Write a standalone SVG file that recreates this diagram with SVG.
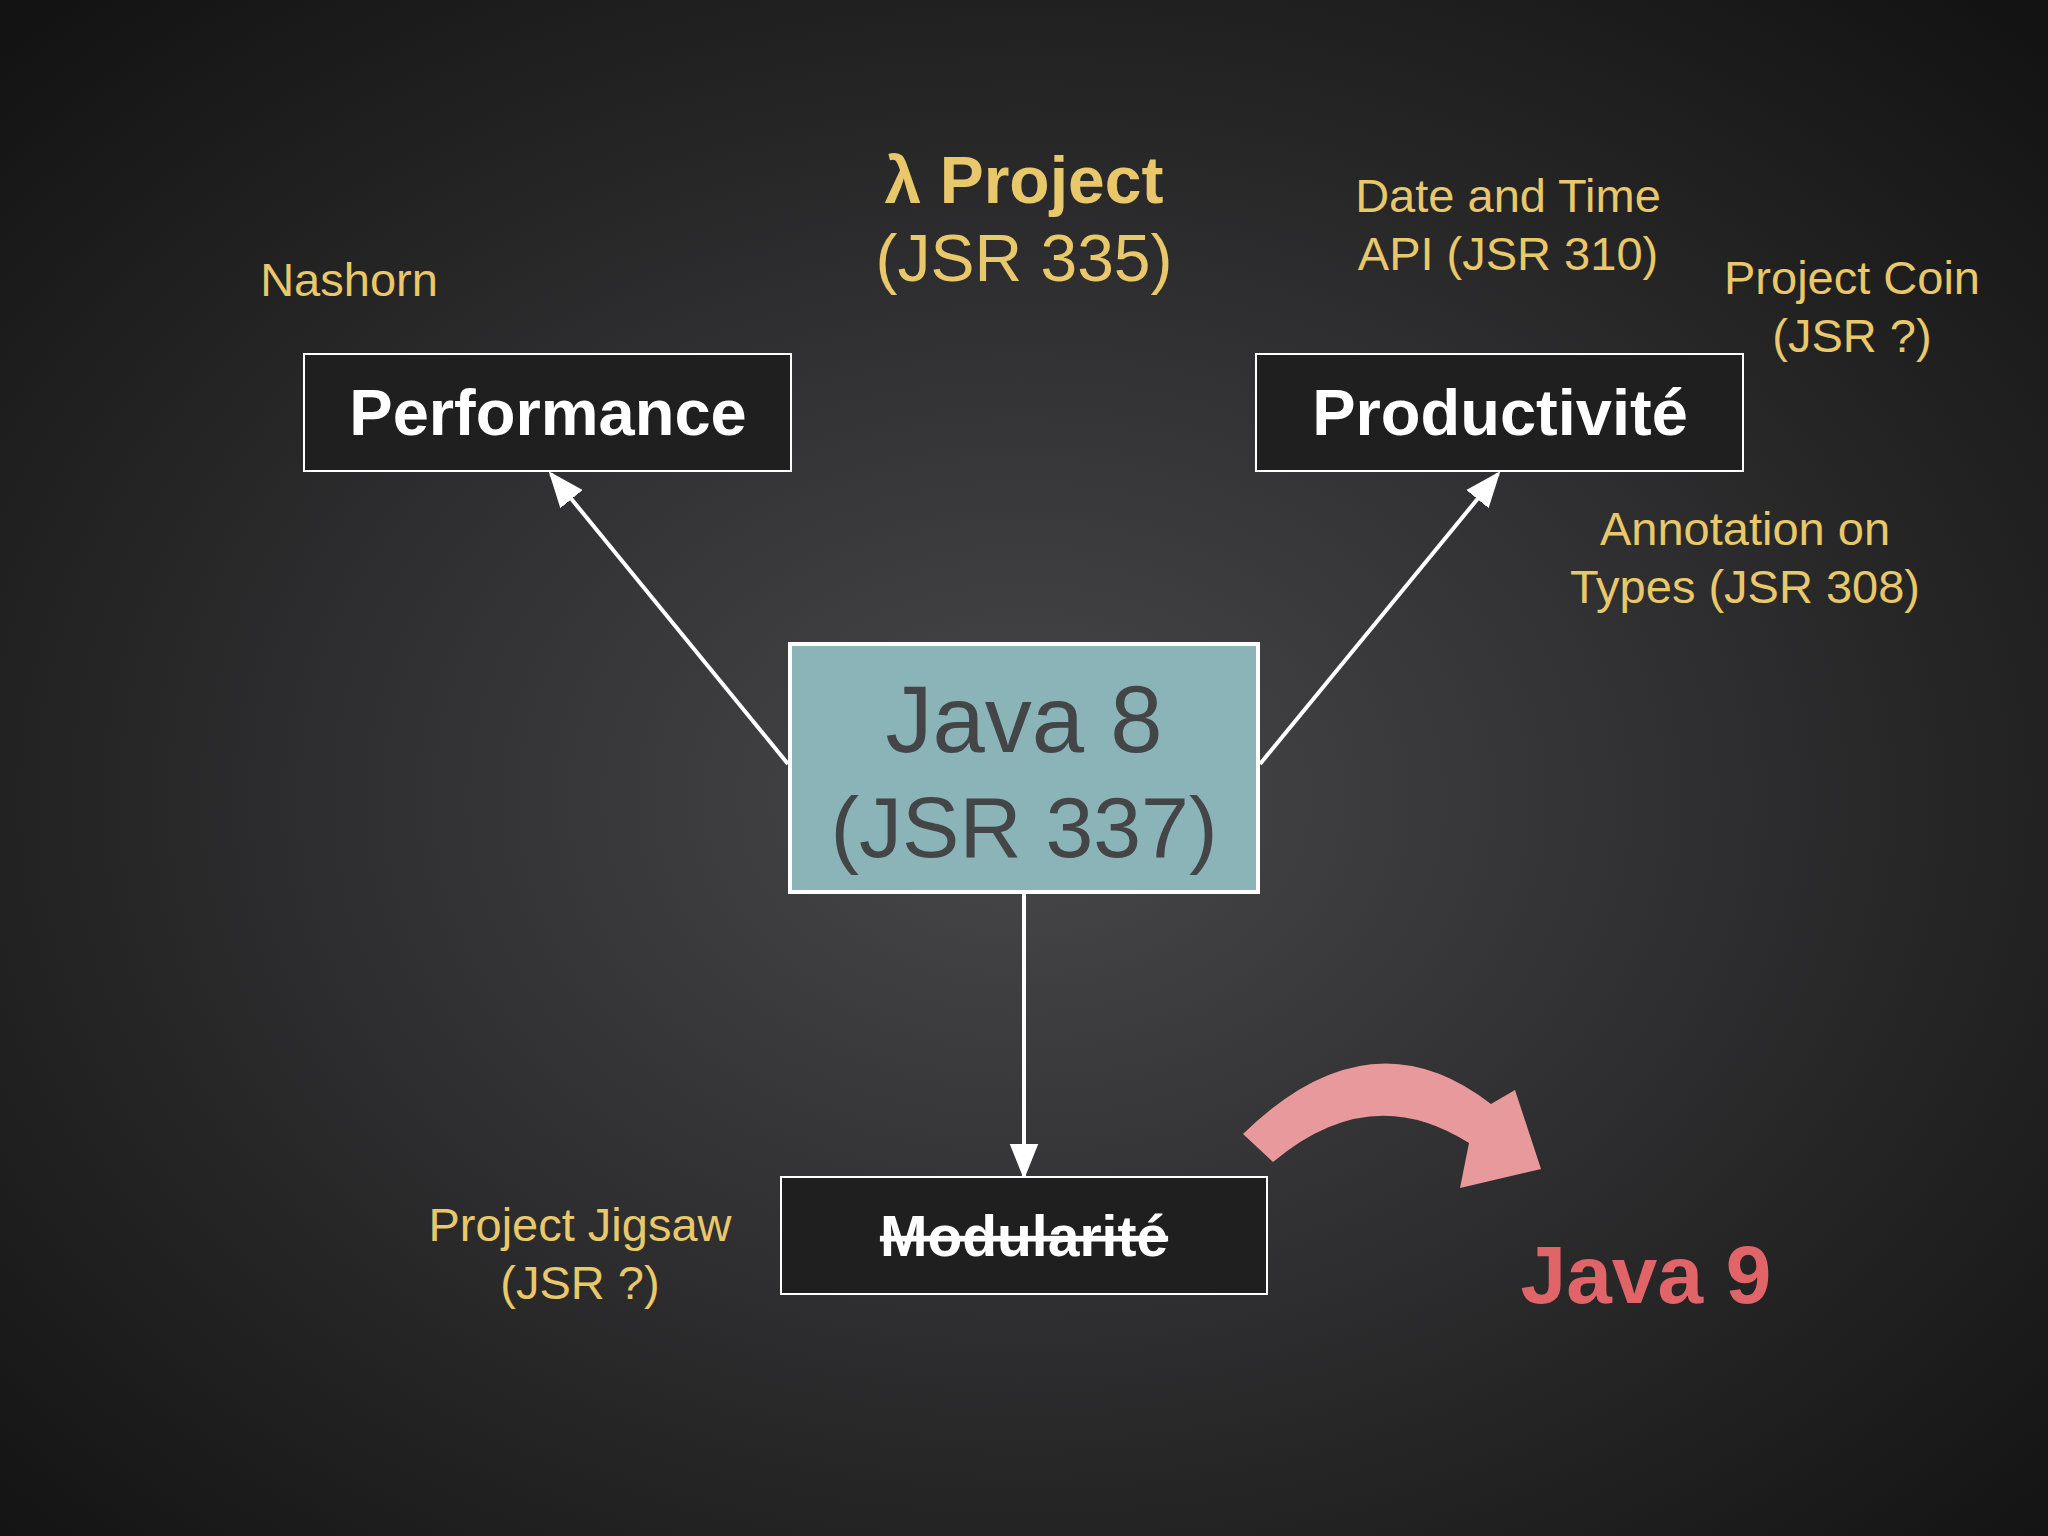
<svg xmlns="http://www.w3.org/2000/svg" width="2048" height="1536" viewBox="0 0 2048 1536">
<defs>
<radialGradient id="bg" cx="50%" cy="52%" r="70%">
<stop offset="0" stop-color="#48474a"/><stop offset="1" stop-color="#131313"/>
</radialGradient>
<marker id="a2" viewBox="0 0 10 10" refX="9" refY="5" markerWidth="36" markerHeight="36" orient="auto" markerUnits="userSpaceOnUse">
<path d="M0,1 L10,5 L0,9 Z" fill="#fff"/>
</marker>
<style>
.box{fill:#1f1f1f;stroke:#fff;stroke-width:2}
.bt{font-family:"Liberation Sans",Arial,sans-serif;font-weight:bold;fill:#fff;text-anchor:middle}
.y{font-family:"Liberation Sans",Arial,sans-serif;fill:#e8c86a;text-anchor:middle;font-size:47px}
.big{font-size:66px}
.c{stroke:#fff;stroke-width:4;fill:none;marker-end:url(#a2)}
</style>
</defs>
<rect width="2048" height="1536" fill="url(#bg)"/>
<g id="connectors">
<line class="c" x1="788" y1="764" x2="551" y2="474"/>
<line class="c" x1="1260" y1="764" x2="1498" y2="474"/>
<line class="c" x1="1024" y1="892" x2="1024" y2="1176"/>
</g>
<g id="performance"><rect class="box" x="304" y="354" width="487" height="117"/><text class="bt" x="548" y="435" font-size="65">Performance</text></g>
<g id="productivite"><rect class="box" x="1256" y="354" width="487" height="117"/><text class="bt" x="1500" y="435" font-size="65">Productivité</text></g>
<g id="java8"><rect x="790" y="644" width="468" height="248" fill="#8ab4b8" stroke="#fff" stroke-width="4"/>
<text x="1024" y="752" font-family="Liberation Sans,Arial,sans-serif" font-size="94" fill="#434547" text-anchor="middle">Java 8</text>
<text x="1024" y="857" font-family="Liberation Sans,Arial,sans-serif" font-size="86" fill="#434547" text-anchor="middle">(JSR 337)</text></g>
<g id="modularite"><rect class="box" x="781" y="1177" width="486" height="117"/><text class="bt" x="1024" y="1256" font-size="57" text-decoration="line-through">Modularité</text></g>
<g id="labels">
<text class="y" x="349" y="296">Nashorn</text>
<text class="y big" x="1024" y="203" font-weight="bold">λ Project</text>
<text class="y big" x="1024" y="281">(JSR 335)</text>
<text class="y" x="1508" y="212">Date and Time</text>
<text class="y" x="1508" y="270">API (JSR 310)</text>
<text class="y" x="1852" y="294">Project Coin</text>
<text class="y" x="1852" y="352">(JSR ?)</text>
<text class="y" x="1745" y="545">Annotation on</text>
<text class="y" x="1745" y="603">Types (JSR 308)</text>
<text class="y" x="580" y="1241">Project Jigsaw</text>
<text class="y" x="580" y="1299">(JSR ?)</text>
</g>
<g id="java9">
<path d="M1243,1134 Q1370,1010 1491,1104 L1515,1090 L1541,1169 L1460,1188 L1469,1143 Q1370,1080 1273,1162 Z" fill="#e8999b"/>
<text x="1646" y="1303" font-family="Liberation Sans,Arial,sans-serif" font-weight="bold" font-size="82" fill="#e06468" text-anchor="middle">Java 9</text>
</g>
</svg>
